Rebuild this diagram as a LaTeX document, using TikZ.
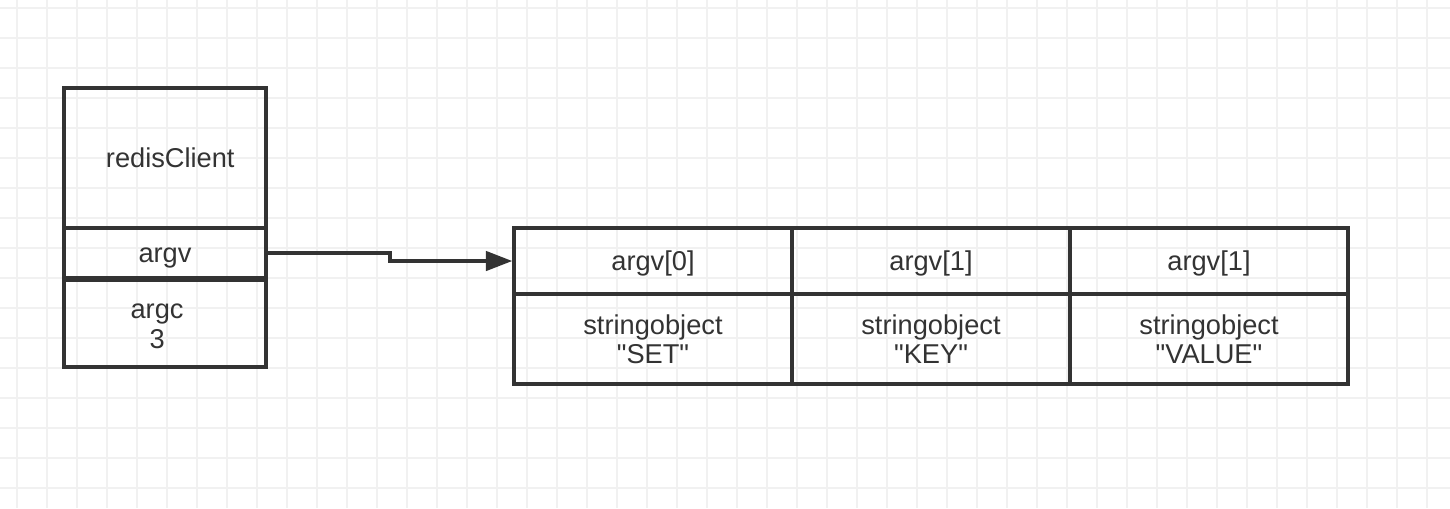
\documentclass[tikz,border=0pt]{standalone}
\usepackage{fontspec}
\setmainfont{Liberation Sans}
\usetikzlibrary{arrows.meta, calc}
\definecolor{cink}{RGB}{51,51,51}
\definecolor{cgrid}{RGB}{241,241,241}
\tikzset{
  cell/.style={    % one-line field of a struct or array
    draw=cink, line width=2pt, text=cink,
    align=center, inner sep=0pt,
    font=\fontsize{15.5}{17}\selectfont,
    text height=14.8pt, text depth=3.5pt
  },
  cellii/.style={  % two-line field
    cell, text height=31.8pt
  },
  parr/.style={-{Triangle[length=15pt, width=11pt]}, line width=2pt, color=cink},
}

\begin{document}
\begin{tikzpicture}[x=0.02cm, y=-0.02cm]
\useasboundingbox (0,0) rectangle (1450,508);

%% background grid
\foreach \gx in {17,47,...,1440}
  \draw[cgrid, line width=1pt] (\gx,0) -- (\gx,508);
\foreach \gy in {8,38,...,500}
  \draw[cgrid, line width=1pt] (0,\gy) -- (1450,\gy);

%% redisClient struct
\node[cell, minimum width=4.04cm, minimum height=2.8cm]    (client) at (165,158)   {\hspace*{6pt}redisClient};
\node[cell, minimum width=4.04cm, minimum height=1.0cm]    (argv)   at (165,253)   {argv};
\node[cellii, minimum width=4.04cm, minimum height=1.74cm] (argc)   at (165,323.5) {argc\hspace*{9pt}\\3\hspace*{9pt}};

%% argv array
\node[cell, minimum width=5.56cm, minimum height=1.32cm] (hd0) at ( 653,261) {argv[0]};
\node[cell, minimum width=5.56cm, minimum height=1.32cm] (hd1) at ( 931,261) {argv[1]};
\node[cell, minimum width=5.56cm, minimum height=1.32cm] (hd2) at (1209,261) {argv[1]};

\node[cellii, minimum width=5.56cm, minimum height=1.8cm] (so0) at ( 653,339) {stringobject\\\textquotedbl SET\textquotedbl};
\node[cellii, minimum width=5.56cm, minimum height=1.8cm] (so1) at ( 931,339) {stringobject\\\textquotedbl KEY\textquotedbl};
\node[cellii, minimum width=5.56cm, minimum height=1.8cm] (so2) at (1209,339) {stringobject\\\textquotedbl VALUE\textquotedbl};

% pointer from argv to the array
\draw[parr] (argv.east) -| ($(argv.east)!0.5!(hd0.west)$) |- (hd0.west);

\end{tikzpicture}
\end{document}
